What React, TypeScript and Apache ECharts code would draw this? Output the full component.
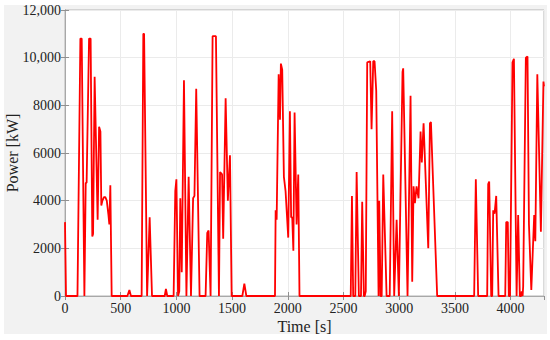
import React, { useEffect, useRef } from "react";
import * as echarts from "echarts";

const xTicks = { min: 0, max: 4300, interval: 500 };
const yTicks = { min: 0, max: 12000, interval: 2000 };
const xName = "Time [s]";
const yName = "Power [kW]";

const timeS: number[] = [
  0, 9, 112, 138, 150, 174, 186, 194, 216, 230, 245, 252, 266, 293, 306, 318, 326, 336, 350, 362, 375, 390, 398, 407, 419,
  560, 578, 592, 688, 703, 710, 737, 742, 760, 781, 895, 906, 918, 975, 990, 1000, 1015, 1026, 1035, 1048, 1068, 1090,
  1110, 1131, 1150, 1162, 1178, 1208, 1262, 1277, 1289, 1307, 1325, 1355, 1382, 1392, 1410, 1420, 1442, 1462, 1481, 1496,
  1592, 1610, 1628, 1885, 1891, 1900, 1918, 1930, 1938, 1950, 1965, 1980, 2004, 2019, 2030, 2040, 2050, 2061, 2079, 2094, 2105,
  2565, 2576, 2587, 2606, 2618, 2638, 2657, 2668, 2683, 2690, 2700, 2713, 2740, 2752, 2767, 2779, 2794, 2815, 2821, 2833,
  2843, 2857, 2887, 2915, 2937, 2955, 2977, 2997, 3030, 3036, 3075, 3102, 3117, 3129, 3141, 3156, 3174, 3192, 3203, 3219,
  3261, 3276, 3285, 3341, 3673, 3688, 3709,
  3790, 3799, 3808, 3826, 3835, 3844, 3856, 3871, 3892, 3952, 3961, 3975, 3984, 3995, 4017, 4030, 4054, 4060, 4068, 4083,
  4095, 4100, 4108, 4113, 4137, 4152, 4165, 4186, 4212, 4222, 4240, 4272, 4295, 4300,
];

const powerKW: number[] = [
  3100, 0, 0, 10800, 10800, 0, 4750, 4750, 10800, 10800, 2500, 2600, 9200, 3200, 7100, 6900, 3800, 4000, 4150, 4150, 4000, 3400, 3000, 4650, 0,
  0, 250, 0, 0, 11000, 11000, 0, 0, 3300, 0, 0, 300, 0, 0, 4400, 4900, 0, 200, 4100, 1000, 9050, 0,
  5000, 0, 4100, 4200, 8700, 0, 0, 2650, 2750, 0, 10900, 10900, 0, 5200, 5100, 2400, 8300, 4000, 5900, 0,
  0, 520, 0, 0, 3600, 3200, 9300, 7400, 9750, 9500, 5000, 4400, 2450, 7750, 3300, 3300, 1900, 7700, 3000, 5100, 0,
  0, 4200, 0, 0, 5200, 0, 0, 3950, 0, 0, 200, 9800, 9850, 7000, 9850, 9850, 8600, 0, 4000, 0,
  0, 5100, 0, 0, 7750, 0, 3200, 0, 9400, 9550, 0, 8400, 600, 4600, 3900, 4600, 4100, 6900, 5600, 7250,
  2000, 7250, 7300, 0, 0, 4900, 0,
  0, 4700, 4800, 0, 0, 3600, 3450, 4200, 0, 0, 3100, 3100, 0, 0, 9800, 9950, 0, 0, 3400, 0,
  0, 200, 0, 400, 10000, 10050, 3000, 250, 3400, 2300, 9300, 2700, 9000, 8800,
];

const fmtY = (v: number) =>
  v >= 10000 ? `${Math.floor(v / 1000)},${String(v % 1000).padStart(3, "0")}` : String(v);
const fmtX = (v: number) => String(v);

export default function App() {
  const ref = useRef<HTMLDivElement>(null);
  useEffect(() => {
    if (!ref.current) return;
    const chart = echarts.init(ref.current, undefined, { renderer: "svg" });
    const font = "Liberation Serif, serif";
    const axisLine = { show: true, lineStyle: { color: "#a8a8a8", width: 1 } };
    const tick = { show: true, inside: true, length: 4, lineStyle: { color: "#909090" } };
    const labelStyle = {
      fontFamily: font,
      fontSize: 14,
      fontStyle: "normal",
      fontWeight: "normal",
      color: "#222",
    };
    chart.setOption({
      animation: false,
      backgroundColor: "#ffffff",
      textStyle: { fontFamily: font },
      graphic: [
        {
          type: "rect",
          z: -10,
          silent: true,
          shape: { x: 4, y: 5, width: 543, height: 329 },
          style: { fill: "#f2f2f2" },
        },
      ],
      grid: {
        left: 65,
        right: 6,
        top: 10,
        bottom: 44,
        outerBoundsMode: "none",
        containLabel: false,
        show: true,
        backgroundColor: "#ffffff",
        borderColor: "#b4b4b4",
        borderWidth: 1,
      },
      xAxis: [
        {
          type: "value",
          min: xTicks.min,
          max: xTicks.max,
          interval: xTicks.interval,
          name: xName,
          nameLocation: "middle",
          nameGap: 22,
          nameMoveOverlap: false,
          nameTextStyle: { fontFamily: font, fontSize: 16, color: "#222" },
          axisLine,
          axisTick: tick,
          axisLabel: {
            ...labelStyle,
            margin: 5,
            showMaxLabel: false,
            formatter: fmtX,
          },
          splitLine: { show: true, lineStyle: { color: "#ebebeb" } },
        },
        {
          type: "value",
          position: "top",
          min: xTicks.min,
          max: xTicks.max,
          interval: xTicks.interval,
          axisLine,
          axisTick: tick,
          axisLabel: { show: false },
          splitLine: { show: false },
        },
      ],
      yAxis: [
        {
          type: "value",
          min: yTicks.min,
          max: yTicks.max,
          interval: yTicks.interval,
          name: yName,
          nameLocation: "middle",
          nameGap: 45,
          nameMoveOverlap: false,
          nameTextStyle: { fontFamily: font, fontSize: 16, color: "#222" },
          axisLine,
          axisTick: tick,
          axisLabel: {
            ...labelStyle,
            margin: 4,
            formatter: fmtY,
          },
          splitLine: { show: true, lineStyle: { color: "#ebebeb" } },
        },
        {
          type: "value",
          position: "right",
          min: yTicks.min,
          max: yTicks.max,
          interval: yTicks.interval,
          axisLine,
          axisTick: tick,
          axisLabel: { show: false },
          splitLine: { show: false },
        },
      ],
      series: [
        {
          type: "line",
          data: timeS.map((t, i) => [t, powerKW[i]]),
          showSymbol: false,
          symbol: "none",
          lineStyle: { color: "#ff0000", width: 1.8 },
          clip: true,
        },
      ],
    });
    return () => chart.dispose();
  }, []);
  return (
    <div
      ref={ref}
      style={{ position: "fixed", left: 0, top: 0, width: 550, height: 340 }}
    />
  );
}
